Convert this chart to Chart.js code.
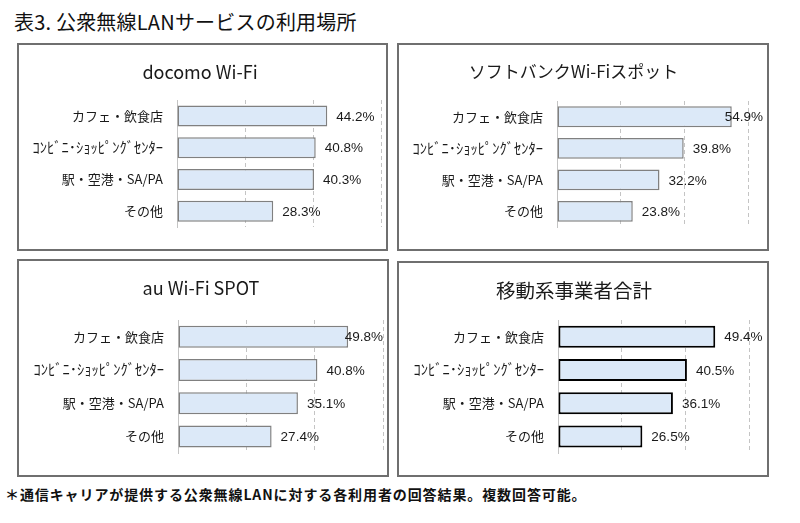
<!DOCTYPE html>
<html>
<head>
<meta charset="utf-8">
<script src="https://cdn.jsdelivr.net/npm/chart.js@4.4.1/dist/chart.umd.min.js"></script>
<style>
  body { margin: 0; width: 800px; height: 523px; position: relative; overflow: hidden; background: #fff;
         font-family: "Noto Sans CJK JP", sans-serif; color: #111; }
  #page-title { position: absolute; left: 14px; top: 11px; font-size: 20px; line-height: 22px; white-space: nowrap; letter-spacing: 0.2px; }
  #note { position: absolute; left: 5px; top: 485px; font-size: 14px; line-height: 18px; font-weight: bold; white-space: nowrap; letter-spacing: 0.9px; }
  .panel { position: absolute; border: 2px solid #6f6f6f; box-sizing: border-box; }
  .panel canvas { display: block; }
</style>
</head>
<body>
<div id="page-title">表3. 公衆無線LANサービスの利用場所</div>

<div class="panel" style="left:17px;top:43px;width:371px;height:208px"><canvas id="c1" width="367" height="204"></canvas></div>
<div class="panel" style="left:397px;top:43px;width:372px;height:208px"><canvas id="c2" width="368" height="204"></canvas></div>
<div class="panel" style="left:17px;top:259px;width:372px;height:218px"><canvas id="c3" width="368" height="214"></canvas></div>
<div class="panel" style="left:397px;top:261px;width:372px;height:216px"><canvas id="c4" width="368" height="212"></canvas></div>

<div id="note">＊通信キャリアが提供する公衆無線LANに対する各利用者の回答結果。複数回答可能。</div>

<script>
// ---- data ----
const categories    = ['カフェ・飲食店', 'ｺﾝﾋﾞﾆ･ｼｮｯﾋﾟﾝｸﾞｾﾝﾀｰ', '駅・空港・SA/PA', 'その他'];
const panelTitles   = ['docomo Wi-Fi', 'ソフトバンクWi-Fiスポット', 'au Wi-Fi SPOT', '移動系事業者合計'];
const docomoValues  = [44.2, 40.8, 40.3, 28.3];
const softbankValues = [54.9, 39.8, 32.2, 23.8];
const auValues      = [49.8, 40.8, 35.1, 27.4];
const totalValues   = [49.4, 40.5, 36.1, 26.5];
const axisTicks     = [0, 20, 40, 60];

// ---- styles ----
const BAR_FILL   = '#dce9f8';
const GRAY_EDGE  = '#808080';
const BLACK_EDGE = '#000000';
const GRID_COLOR = '#c4c4c4';
const TEXT_COLOR = '#1a1a1a';
const CJK_FONT   = '"Noto Sans CJK JP", sans-serif';

// value labels drawn after the bars, pulled back inside the canvas when they overflow
const valueLabels = {
  id: 'valueLabels',
  afterDatasetsDraw(chart) {
    const ctx  = chart.ctx;
    const meta = chart.getDatasetMeta(0);
    const data = chart.data.datasets[0].data;
    ctx.save();
    ctx.font = '13.5px "Liberation Sans", Arial, sans-serif';
    ctx.fillStyle = TEXT_COLOR;
    ctx.textAlign = 'left';
    ctx.textBaseline = 'middle';
    meta.data.forEach((bar, i) => {
      const text = data[i].toFixed(1) + '%';
      const w = ctx.measureText(text).width;
      let x = bar.x + 9;
      if (x + w > chart.width - 4) x = chart.width - 4 - w;
      ctx.fillText(text, x, bar.y + 1);
    });
    ctx.restore();
  }
};

function makePanel(id, title, values, edgeColor, edgeWidth, geo) {
  const lineH = geo.titleSize * 1.2;
  const padTop = geo.titleY - lineH / 2;
  new Chart(document.getElementById(id), {
    type: 'bar',
    data: {
      labels: categories,
      datasets: [{
        data: values,
        backgroundColor: BAR_FILL,
        borderColor: edgeColor,
        borderWidth: edgeWidth,
        borderSkipped: false,
        categoryPercentage: 0.66,
        barPercentage: 1,
      }],
    },
    options: {
      indexAxis: 'y',
      responsive: false,
      animation: false,
      layout: { padding: { left: 0, right: geo.right, top: 0, bottom: geo.bottom } },
      plugins: {
        legend: { display: false },
        tooltip: { enabled: false },
        title: {
          display: true,
          text: title,
          color: TEXT_COLOR,
          font: { size: geo.titleSize, weight: 'normal', family: CJK_FONT },
          padding: { top: padTop, bottom: geo.plotTop - padTop - lineH },
        },
      },
      scales: {
        x: {
          min: axisTicks[0],
          max: axisTicks[axisTicks.length - 1],
          ticks: { display: false, stepSize: axisTicks[1] - axisTicks[0] },
          grid: { color: GRID_COLOR, lineWidth: 1, drawTicks: false },
          border: { display: false, dash: [4, 3] },
          afterFit: s => { s.height = 0; },
        },
        y: {
          grid: { display: false, drawTicks: false },
          border: { display: true, color: GRID_COLOR, width: 1 },
          ticks: {
            padding: 14,
            color: TEXT_COLOR,
            // the half-width katakana label is set a little larger, as in the original
            font: c => ({ size: c.index === 1 ? 14.5 : 13, family: CJK_FONT }),
          },
          afterFit: s => { s.width = geo.plotLeft; },
        },
      },
    },
    plugins: [valueLabels],
  });
}

makePanel('c1', panelTitles[0], docomoValues,   GRAY_EDGE,  1.5, { plotLeft: 158, right: 5,  plotTop: 55, bottom: 16, titleY: 27, titleSize: 18 });
makePanel('c2', panelTitles[1], softbankValues, GRAY_EDGE,  1.5, { plotLeft: 158, right: 19, plotTop: 56, bottom: 16, titleY: 27, titleSize: 17 });
makePanel('c3', panelTitles[2], auValues,       GRAY_EDGE,  1.5, { plotLeft: 159, right: 4,  plotTop: 59, bottom: 18, titleY: 27, titleSize: 18 });
makePanel('c4', panelTitles[3], totalValues,    BLACK_EDGE, 2,   { plotLeft: 159, right: 18, plotTop: 57, bottom: 18, titleY: 28, titleSize: 19.5 });
</script>
</body>
</html>
